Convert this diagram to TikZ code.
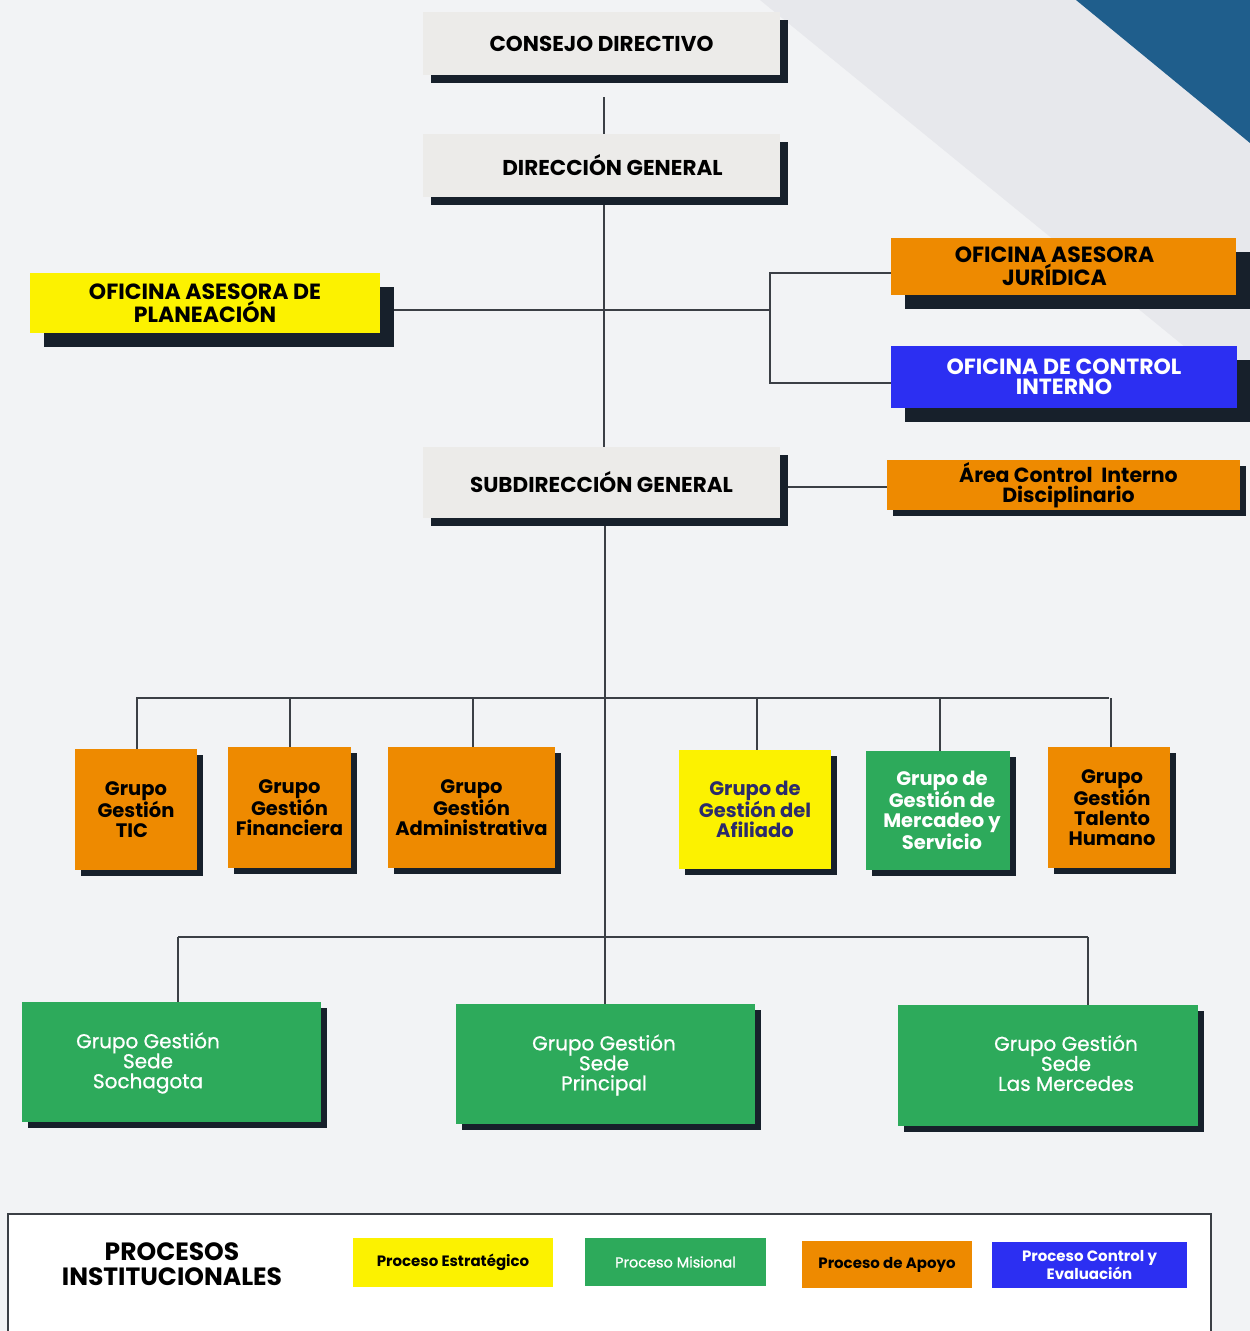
\documentclass[tikz,border=0pt]{standalone}
\usepackage{fontspec}
\setmainfont{Poppins}
\newfontfamily\medfont{Poppins}[FakeBold=0.8]
\usetikzlibrary{shadows,calc}
\definecolor{bgc}{HTML}{F2F3F5}
\definecolor{bandc}{HTML}{E7E8EC}
\definecolor{decoblue}{HTML}{1F5E8C}
\definecolor{shadowc}{HTML}{17202B}
\definecolor{grayfill}{HTML}{ECEBE9}
\definecolor{yel}{HTML}{FCF200}
\definecolor{ora}{HTML}{EE8A00}
\definecolor{blu}{HTML}{2C2FF2}
\definecolor{grn}{HTML}{2DAA5B}
\definecolor{linec}{HTML}{3B3F45}
\definecolor{navyt}{HTML}{2B2B6B}
\pgfdeclarelayer{bg}
\pgfdeclarelayer{lines}
\pgfsetlayers{bg,lines,main}
\begin{document}
\begin{tikzpicture}[x=1pt,y=-1pt,
  conn/.style={draw=linec,line width=2pt},
  sh/.style={drop shadow={shadow xshift=#1pt,shadow yshift=-#1pt,opacity=1,fill=shadowc}},
  box/.style={rectangle,inner sep=0pt,align=center,text=black},
  graybox/.style={box,fill=grayfill,minimum width=357pt,font=\fontsize{21.5}{23}\selectfont\bfseries},
  capbox/.style={box,font=\fontsize{22}{20}\selectfont\bfseries},
  grpbox/.style={box,sh=6,font=\fontsize{19.5}{20}\selectfont\bfseries},
  sedebox/.style={box,sh=6,fill=grn,text=white,minimum width=299pt,minimum height=120pt},
  sedetxt/.style={text=white,align=center,inner sep=0pt,font=\fontsize{20}{20}\medfont},
  legitem/.style={box,font=\fontsize{15}{14}\selectfont\bfseries},
]
\useasboundingbox (0,0) rectangle (1250,1331);
\begin{pgfonlayer}{bg}
  \fill[bgc] (0,0) rectangle (1250,1331);
  \fill[bandc] (760,0) -- (1250,0) -- (1250,400) -- cycle;
  \fill[decoblue] (1076,0) -- (1250,0) -- (1250,143) -- cycle;
\end{pgfonlayer}

% top hierarchy
\node[graybox,sh=8,minimum height=63pt] (cd) at (601.5,43.5) {CONSEJO DIRECTIVO};
\node[graybox,sh=8,minimum height=63pt] (dg) at (601.5,165.5) {\hspace*{22pt}DIRECCIÓN GENERAL};
\node[graybox,sh=8,minimum height=71pt] (sg) at (601.5,482.5) {SUBDIRECCIÓN GENERAL};

\node[capbox,sh=14,fill=yel,minimum width=350pt,minimum height=60pt] (pl) at (205,303) {OFICINA ASESORA DE\\PLANEACIÓN};
\node[capbox,sh=14,fill=ora,minimum width=345pt,minimum height=57pt] (oaj) at (1063.5,266.5) {OFICINA ASESORA\hspace*{18pt}\\JURÍDICA\hspace*{18pt}};
\node[capbox,sh=14,fill=blu,text=white,minimum width=346pt,minimum height=62pt] (oci) at (1064,377) {OFICINA DE CONTROL\\INTERNO};
\node[capbox,sh=6,fill=ora,minimum width=353pt,minimum height=50pt,font=\fontsize{20.5}{20}\selectfont\bfseries] (acid) at (1063.5,485) {\hspace*{10pt}Área Control~ Interno\\\hspace*{10pt}Disciplinario};

% groups
\node[grpbox,fill=ora,minimum width=122pt,minimum height=121pt] (tic) at (136,809.5) {Grupo\\Gestión\\TIC\hspace*{8pt}};
\node[grpbox,fill=ora,minimum width=123pt,minimum height=121pt] (fin) at (289.5,807.5) {Grupo\\Gestión\\Financiera};
\node[grpbox,fill=ora,minimum width=167pt,minimum height=121pt] (adm) at (471.5,807.5) {Grupo\\Gestión\\Administrativa};
\node[grpbox,fill=yel,text=navyt,minimum width=152pt,minimum height=119pt] (afi) at (755,809.5) {Grupo de\\Gestión del\\Afiliado};
\node[grpbox,fill=grn,text=white,minimum width=144pt,minimum height=119pt] (mer) at (938,810.5) {\hspace*{8pt}Grupo de\\\hspace*{8pt}Gestión de\\\hspace*{8pt}Mercadeo y\\\hspace*{8pt}Servicio};
\node[grpbox,fill=ora,minimum width=122pt,minimum height=121pt] (tal) at (1109,807.5) {\hspace*{6pt}Grupo\\\hspace*{6pt}Gestión\\\hspace*{6pt}Talento\\\hspace*{6pt}Humano};

% sedes
\node[sedebox] (soc) at (171.5,1062) {};
\node[sedebox] (pri) at (605.5,1064) {};
\node[sedebox,minimum width=300pt,minimum height=121pt] (lme) at (1048,1065.5) {};
\node[sedetxt] (soct) at (148,1063) {Grupo Gestión\\Sede\\Sochagota};
\node[sedetxt] (prit) at (604,1065) {Grupo Gestión\\Sede\\Principal};
\node[sedetxt] (lmet) at (1066,1063) {Grupo Gestión\\Sede\\Las Mercedes};

% connectors
\begin{pgfonlayer}{lines}
  \draw[conn] ([xshift=2.5pt,yshift=-22pt]cd.south) -- ([xshift=2.5pt]dg.north);
  \draw[conn] ([xshift=2.5pt]dg.south) -- ([xshift=2.5pt]sg.north);
  \coordinate (jn) at (770,310);
  \draw[conn] ([yshift=-7pt]pl.east) -- (jn);
  \draw[conn] ([yshift=-6.5pt]oaj.west) -- ([yshift=-6.5pt]oaj.west -| jn) -- ([yshift=-6pt]oci.west -| jn) -- ([yshift=-6pt]oci.west);
  \draw[conn] ([yshift=-2pt]acid.west -| sg.east) -- ([yshift=-2pt]acid.west);
  \draw[conn] ([xshift=3pt]sg.south) -- ([xshift=3pt]sg.south |- pri.north);
  \coordinate (b1) at (605,698);
  \coordinate (b2) at (605,937);
  \draw[conn] (tic.north |- b1) -- (tal.north |- b1);
  \foreach \n/\dx in {tic/1,fin/0.5,adm/1.5,afi/2,mer/2,tal/2}{
    \draw[conn] ([xshift=\dx pt]\n.north) -- ([xshift=\dx pt]\n.north |- b1);
  }
  \draw[conn] ([xshift=6.5pt]soc.north |- b2) -- ([xshift=40pt]lme.north |- b2);
  \draw[conn] ([xshift=6.5pt]soc.north) -- ([xshift=6.5pt]soc.north |- b2);
  \draw[conn] ([xshift=40pt]lme.north) -- ([xshift=40pt]lme.north |- b2);
\end{pgfonlayer}

% legend
\draw[draw=linec,line width=2pt,fill=white] (8,1214) rectangle (1211,1336);
\node[box,font=\fontsize{25}{25}\selectfont\bfseries] (lt) at (172,1264) {PROCESOS\\INSTITUCIONALES};
\node[legitem,fill=yel,minimum width=200pt,minimum height=49pt] (le1) at (453,1262.5) {Proceso Estratégico};
\node[legitem,fill=grn,text=white,minimum width=181pt,minimum height=48pt,font=\fontsize{14.5}{14}\medfont] (le2) at (675.5,1262) {Proceso Misional};
\node[legitem,fill=ora,minimum width=170pt,minimum height=47pt] (le3) at (887,1264.5) {Proceso de Apoyo};
\node[legitem,fill=blu,text=white,minimum width=195pt,minimum height=46pt] (le4) at (1089.5,1265) {Proceso Control y\\Evaluación};
\end{tikzpicture}
\end{document}
